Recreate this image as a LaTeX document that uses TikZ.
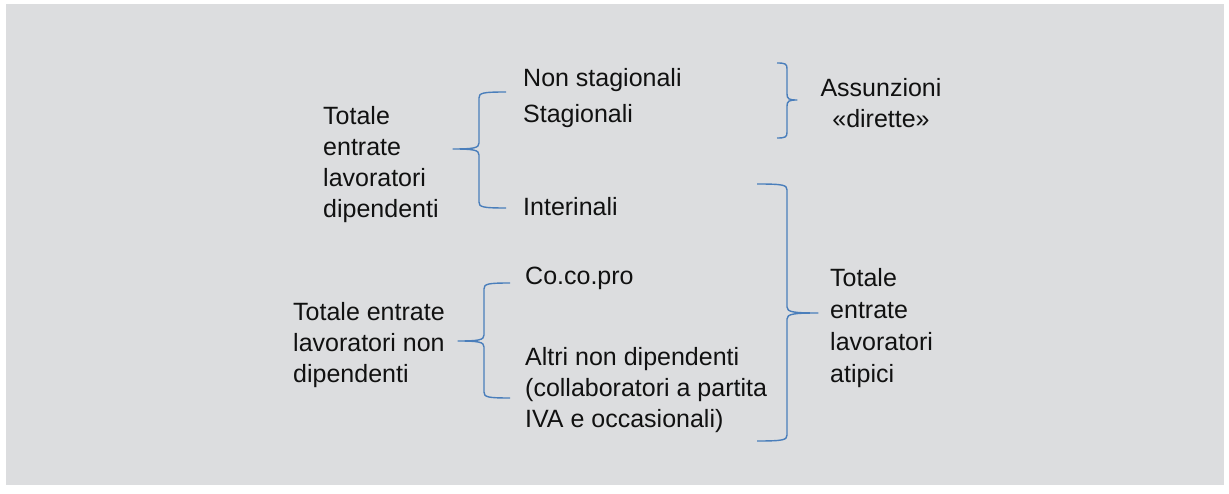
\documentclass[tikz,border=0pt]{standalone}
\usepackage{fontspec}
\setmainfont{Liberation Sans}
\definecolor{bggray}{HTML}{DCDDDF}
\definecolor{braceblue}{HTML}{4A7EBB}
\definecolor{txt}{HTML}{111111}
\newcommand\mybrace[6]{% v, a, t, b, p, m
  \draw[bracestyle] (#2,#3) .. controls ({#1+0.12*(#2-#1)},#3) and (#1,{#3+1}) .. (#1,{#3+6})
    -- (#1,{#6-6}) .. controls (#1,{#6-1}) and ({#1+0.2*(#5-#1)},#6) .. (#5,#6)
    .. controls ({#1+0.2*(#5-#1)},#6) and (#1,{#6+1}) .. (#1,{#6+6})
    -- (#1,{#4-6}) .. controls (#1,{#4-1}) and ({#1+0.12*(#2-#1)},#4) .. (#2,#4);}
\begin{document}
\begin{tikzpicture}[x=1pt,y=-1pt,
  bracestyle/.style={draw=braceblue,line width=1.4pt,line join=round},
  lbl/.style={inner sep=0pt,anchor=west,align=left,text=txt,font=\fontsize{25}{31}\selectfont}]
\useasboundingbox (0,0) rectangle (1229,494);
\fill[white] (0,0) rectangle (1229,494);
\fill[bggray] (6,4) rectangle (1224,485);

\node[lbl] (dip) at (323,165) {Totale\\entrate\\lavoratori\\dipendenti};
\node[lbl] (nonstag) at (523,80) {Non stagionali};
\node[lbl] (stag) at (523,116) {Stagionali};
\node[lbl] (inter) at (523,207) {Interinali};
\node[lbl,anchor=center,align=center] (dir) at (881,103) {Assunzioni\\«dirette»};
\node[lbl,font=\fontsize{25}{32}\selectfont] (atip) at (830,328) {Totale\\entrate\\lavoratori\\atipici};
\node[lbl] (nondip) at (293,345) {Totale entrate\\lavoratori non\\dipendenti};
\node[lbl] (cocopro) at (525,278) {Co.co.pro};
\node[lbl] (altri) at (525,390) {Altri non dipendenti\\(collaboratori a partita\\IVA e occasionali)};

\mybrace{479}{506}{92}{208}{453}{149}
\mybrace{787}{777}{63}{138}{797}{100}
\mybrace{787}{757}{184}{441}{818}{313}
\mybrace{484}{510}{283}{398}{458}{341}
\end{tikzpicture}
\end{document}
